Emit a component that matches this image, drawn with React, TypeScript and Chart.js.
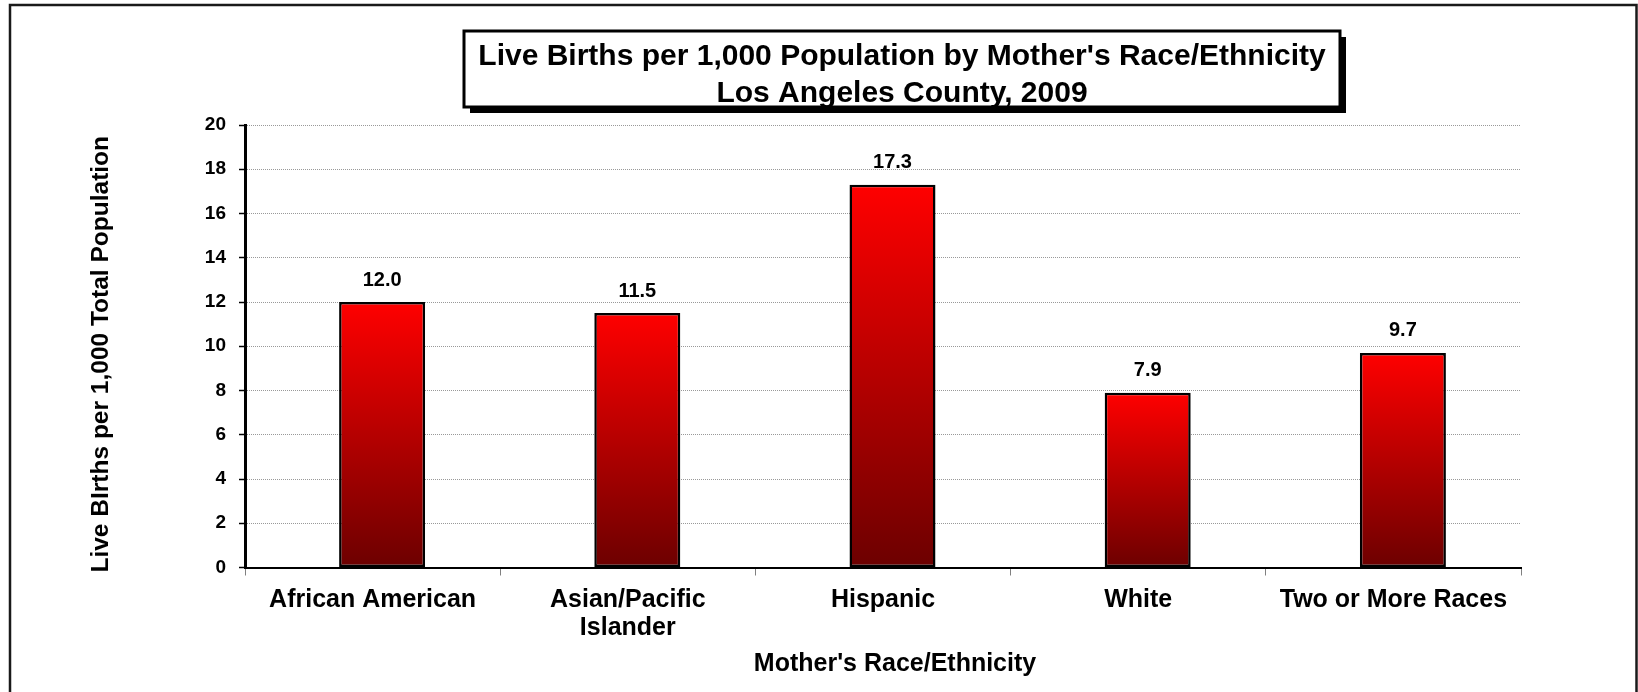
import React, { useEffect, useRef } from "react";
import { Chart, registerables } from "chart.js";

Chart.register(...registerables);

const categories: (string | string[])[] = [
  "African American",
  ["Asian/Pacific", "Islander"],
  "Hispanic",
  "White",
  "Two or More Races",
];
const birthRates: number[] = [12.0, 11.5, 17.3, 7.9, 9.7];
const titleLines: string[] = [
  "Live Births per 1,000 Population by Mother's Race/Ethnicity",
  "Los Angeles County, 2009",
];
const yAxisTitle = "Live BIrths per 1,000 Total Population";
const xAxisTitle = "Mother's Race/Ethnicity";
const yMin = 0;
const yMax = 20;
const yStep = 2;

const FONT = '"Liberation Sans", Arial, Helvetica, sans-serif';
const BAR_SHIFT = 9.5;

const framePlugin = {
  id: "frame",
  beforeDraw(chart: any) {
    const ctx = chart.ctx;
    ctx.save();
    ctx.fillStyle = "#ffffff";
    ctx.fillRect(0, 0, chart.width, chart.height);
    ctx.strokeStyle = "#1a1a1a";
    ctx.lineWidth = 2.5;
    ctx.strokeRect(10, 5, 1626.5, 720);
    ctx.restore();
  },
};

const barsPlugin = {
  id: "barsShiftAndLabels",
  beforeDatasetsDraw(chart: any) {
    chart.ctx.save();
    chart.ctx.translate(BAR_SHIFT, 0);
  },
  afterDatasetsDraw(chart: any) {
    const ctx = chart.ctx;
    ctx.restore();
    const meta = chart.getDatasetMeta(0);
    const data = chart.data.datasets[0].data as number[];
    ctx.save();
    ctx.font = `bold 20px ${FONT}`;
    ctx.fillStyle = "#000";
    ctx.textAlign = "center";
    ctx.textBaseline = "middle";
    meta.data.forEach((bar: any, i: number) => {
      ctx.fillText(Number(data[i]).toFixed(1), bar.x + BAR_SHIFT, bar.y - 22);
    });
    ctx.restore();
  },
};

const axisTitlesPlugin = {
  id: "axisTitles",
  afterDraw(chart: any) {
    const ctx = chart.ctx;
    const area = chart.chartArea;
    ctx.save();
    ctx.fillStyle = "#000";
    ctx.textAlign = "center";
    ctx.textBaseline = "middle";
    ctx.font = `bold 25px ${FONT}`;
    ctx.fillText(xAxisTitle, (area.left + area.right) / 2 + 12, area.bottom + 97);
    ctx.translate(101, (area.top + area.bottom) / 2 + 8);
    ctx.rotate(-Math.PI / 2);
    ctx.font = `bold 24.5px ${FONT}`;
    ctx.fillText(yAxisTitle, 0, 0);
    ctx.restore();
  },
};

const titleBoxPlugin = {
  id: "titleBox",
  afterDraw(chart: any) {
    const ctx = chart.ctx;
    const bx = 464, by = 31, bw = 876, bh = 76;
    ctx.save();
    ctx.fillStyle = "#000";
    ctx.fillRect(bx + 6, by + 6, bw, bh);
    ctx.fillStyle = "#fff";
    ctx.fillRect(bx, by, bw, bh);
    ctx.strokeStyle = "#000";
    ctx.lineWidth = 3;
    ctx.strokeRect(bx, by, bw, bh);
    ctx.font = `bold 30px ${FONT}`;
    ctx.fillStyle = "#000";
    ctx.textAlign = "center";
    ctx.textBaseline = "alphabetic";
    const cx = bx + bw / 2;
    ctx.fillText(titleLines[0], cx, 65);
    ctx.fillText(titleLines[1], cx, 102);
    ctx.restore();
  },
};

export default function App() {
  const canvasRef = useRef<HTMLCanvasElement | null>(null);

  useEffect(() => {
    if (!canvasRef.current) return;
    const chart = new Chart(canvasRef.current, {
      type: "bar",
      data: {
        labels: categories,
        datasets: [
          {
            data: birthRates,
            backgroundColor: (c: any) => {
              if (c.type !== "data") return "#ff0000";
              const ch = c.chart;
              const ys = ch.scales && ch.scales.y;
              if (!ys) return "#ff0000";
              const top = ys.getPixelForValue(c.raw);
              const bottom = ys.getPixelForValue(0);
              if (!isFinite(top) || !isFinite(bottom) || top === bottom) return "#ff0000";
              const g = ch.ctx.createLinearGradient(0, top, 0, bottom);
              g.addColorStop(0, "#ff0000");
              g.addColorStop(1, "#6c0000");
              return g;
            },
            borderColor: "#000000",
            borderWidth: 2.5,
            borderSkipped: false,
            categoryPercentage: 1,
            barPercentage: 0.337,
          },
        ],
      },
      options: {
        animation: false,
        responsive: false,
        maintainAspectRatio: false,
        devicePixelRatio: 1,
        layout: { padding: { left: 0, top: 125, right: 117, bottom: 0 } },
        plugins: {
          legend: { display: false },
          title: { display: false },
          tooltip: { enabled: false },
        },
        scales: {
          x: {
            afterFit: (s: any) => {
              s.height = 124.5;
            },
            grid: {
              offset: true,
              drawOnChartArea: false,
              drawTicks: true,
              tickLength: 8,
              tickColor: "#808080",
              tickWidth: 1,
            },
            border: { color: "#000", width: 2 },
            ticks: {
              color: "#000",
              font: { family: FONT, weight: "bold", size: 25, lineHeight: 1.1 },
              padding: 11,
              maxRotation: 0,
              autoSkip: false,
            },
          },
          y: {
            min: yMin,
            max: yMax,
            afterFit: (s: any) => {
              s.width = 245;
            },
            ticks: {
              stepSize: yStep,
              color: "#000",
              font: { family: FONT, weight: "bold", size: 19 },
              padding: 13,
            },
            grid: {
              color: "#999999",
              lineWidth: 1,
              tickColor: "#000",
              tickLength: 6,
              tickWidth: 1.5,
            },
            border: { color: "#000", width: 3, dash: [1, 1] },
          },
        },
      },
      plugins: [framePlugin, barsPlugin, axisTitlesPlugin, titleBoxPlugin],
    });
    return () => chart.destroy();
  }, []);

  return (
    <div style={{ position: "fixed", left: 0, top: 0, width: 1638, height: 692, background: "#fff" }}>
      <canvas ref={canvasRef} width={1638} height={692} style={{ width: 1638, height: 692, display: "block" }} />
    </div>
  );
}
